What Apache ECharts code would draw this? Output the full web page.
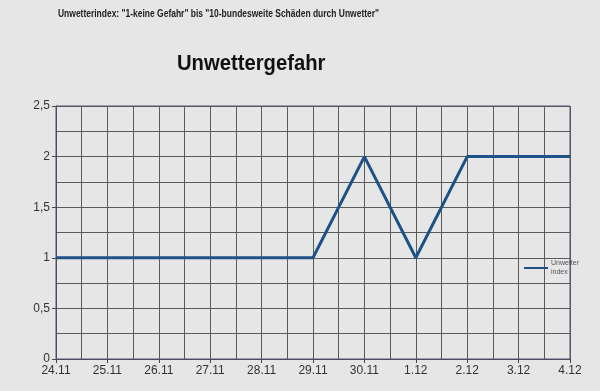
<!DOCTYPE html>
<html><head><meta charset="utf-8">
<script src="https://cdn.jsdelivr.net/npm/echarts@6/dist/echarts.min.js"></script>
<style>html,body{margin:0;padding:0;background:#e6e6e6}#c{width:600px;height:391px}</style>
</head><body><div id="c"></div>
<script>
var categories = ['24.11','25.11','26.11','27.11','28.11','29.11','30.11','1.12','2.12','3.12','4.12'];
var unwetterIndex = [1,1,1,1,1,1,2,1,2,2,2];
var yTicks = [0,0.5,1,1.5,2,2.5];

var chart = echarts.init(document.getElementById('c'));
var gridColor = '#5a5a5a';
chart.setOption({
  backgroundColor: '#e6e6e6',
  animation: false,
  legend: {
    left: 519, top: 250, itemWidth: 24, itemHeight: 2, itemGap: 0,
    formatter: function(){ return 'Unwetter\nindex'; },
    textStyle: {fontSize: 7, color: '#555', fontFamily: 'Liberation Sans', lineHeight: 9, padding: [8,0,0,-2]},
    data: [{name: 'Unwetterindex', icon: 'rect'}]
  },
  grid: {left: 56, right: 30, top: 106, bottom: 32},
  xAxis: {
    type: 'value', min: 0, max: categories.length - 1, interval: 1,
    axisLine: {show: true, lineStyle: {color: '#444', width: 1}},
    axisTick: {show: true, length: 4, lineStyle: {color: '#444'}},
    axisLabel: {color: '#333', fontSize: 12, fontFamily: 'Liberation Sans', margin: 6,
      formatter: function(v){ return categories[Math.round(v)]; }},
    splitLine: {show: true, lineStyle: {color: gridColor, width: 1}},
    minorTick: {show: false, splitNumber: 2},
    minorSplitLine: {show: true, lineStyle: {color: gridColor, width: 1}}
  },
  yAxis: {
    type: 'value', min: yTicks[0], max: yTicks[yTicks.length-1], interval: 0.5,
    axisLine: {show: true, lineStyle: {color: '#444'}},
    axisTick: {show: true, length: 4, lineStyle: {color: '#444'}},
    axisLabel: {color: '#333', fontSize: 12, fontFamily: 'Liberation Sans', margin: 6,
      formatter: function(v){ return String(v).replace('.', ','); }},
    splitLine: {show: true, lineStyle: {color: gridColor, width: 1}},
    minorTick: {show: false, splitNumber: 2},
    minorSplitLine: {show: true, lineStyle: {color: gridColor, width: 1}}
  },
  graphic: [
    {type: 'rect', shape: {x: 56, y: 106, width: 514, height: 253}, style: {fill: 'none', stroke: '#55557a', lineWidth: 1}, silent: true, z: 1},
    {type: 'text', x: 58, y: 8, scaleX: 0.77, silent: true,
     style: {text: 'Unwetterindex: "1-keine Gefahr" bis "10-bundesweite Schäden durch Unwetter"',
       font: 'bold 11px "Liberation Sans"', fill: '#222'}},
    {type: 'text', x: 177, y: 53, scaleX: 0.92, silent: true,
     style: {text: 'Unwettergefahr', font: 'bold 22px "Liberation Sans"', fill: '#111'}}
  ],
  series: [{
    name: 'Unwetterindex', type: 'line', symbol: 'none',
    lineStyle: {color: '#1f5189', width: 3},
    itemStyle: {color: '#1f5189'},
    data: unwetterIndex.map(function(v, i){ return [i, v]; })
  }]
});
</script></body></html>
